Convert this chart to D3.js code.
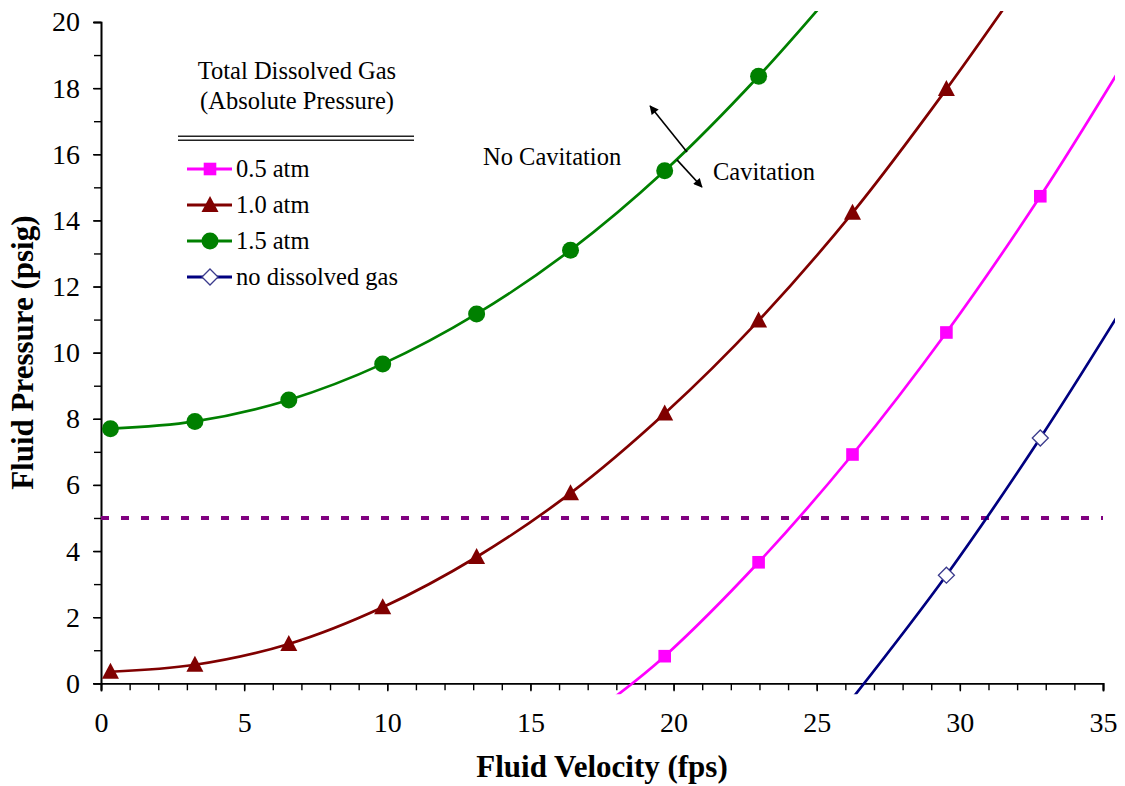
<!DOCTYPE html>
<html>
<head>
<meta charset="utf-8">
<script src="https://cdn.jsdelivr.net/npm/d3@7"></script>
<style>
  html, body { margin: 0; padding: 0; background: #fff; }
  svg { display: block; }
  text { font-family: "Liberation Serif", "Times New Roman", serif; fill: #000; }
</style>
</head>
<body>
<svg id="chart" width="1125" height="786"></svg>
<script>
// ---------------- data ----------------
const velocityFps = [0.33, 3.28, 6.56, 9.84, 13.12, 16.40, 19.69, 22.97, 26.25, 29.53, 32.81];

// markers (measured points)
const gas15X = [0.33, 3.28, 6.56, 9.84, 13.12, 16.40, 19.69, 22.97];
const gas15Y = [7.70, 7.92, 8.57, 9.66, 11.17, 13.10, 15.50, 18.36];

const gas10X = [0.33, 3.28, 6.56, 9.84, 13.12, 16.40, 19.69, 22.97, 26.25, 29.53];
const gas10Y = [0.35, 0.56, 1.19, 2.30, 3.82, 5.75, 8.16, 10.97, 14.23, 17.97];

const gas05X = [19.69, 22.97, 26.25, 29.53, 32.81];
const gas05Y = [0.82, 3.66, 6.92, 10.61, 14.73];

const noGasX = [29.53, 32.81];
const noGasY = [3.27, 7.42];

// visible continuation of the smoothed curves beyond the markers
const gas15TailX = [26.25];            const gas15TailY = [21.6];
const gas10TailX = [32.81];            const gas10TailY = [22.0];
const gas05HeadX = [18.0];             const gas05HeadY = [-0.38];
const gas05TailX = [35.5];             const gas05TailY = [18.45];
const noGasHeadX = [26.25];            const noGasHeadY = [-0.45];
const noGasTailX = [35.5];             const noGasTailY = [11.1];

const thresholdPsig = 5;

const xTickLabels = [0, 5, 10, 15, 20, 25, 30, 35];
const yTickLabels = [0, 2, 4, 6, 8, 10, 12, 14, 16, 18, 20];

const legendTitle = ["Total Dissolved Gas", "(Absolute Pressure)"];
const seriesNames = ["0.5 atm", "1.0 atm", "1.5 atm", "no dissolved gas"];

// annotation arrows (data coordinates)
const arrowUp   = [[20.47, 16.07], [19.18, 17.46]];
const arrowDown = [[20.12, 15.83], [20.99, 15.01]];

// ---------------- layout ----------------
const svg = d3.select("#chart");
const L = 101, R = 1103, T = 22, B = 683.3;

const x = d3.scaleLinear().domain([0, 35]).range([L, R]);
const y = d3.scaleLinear().domain([0, 20]).range([B, T]);

const zip = (xs, ys) => xs.map((v, i) => [v, ys[i]]);

const series = [
  { name: seriesNames[0], color: "#FF00FF", shape: "square",
    pts: zip(gas05X, gas05Y), line: [...zip(gas05HeadX, gas05HeadY), ...zip(gas05X, gas05Y), ...zip(gas05TailX, gas05TailY)] },
  { name: seriesNames[1], color: "#800000", shape: "triangle",
    pts: zip(gas10X, gas10Y), line: [...zip(gas10X, gas10Y), ...zip(gas10TailX, gas10TailY)] },
  { name: seriesNames[2], color: "#008000", shape: "circle",
    pts: zip(gas15X, gas15Y), line: [...zip(gas15X, gas15Y), ...zip(gas15TailX, gas15TailY)] },
  { name: seriesNames[3], color: "#000080", shape: "diamond",
    pts: zip(noGasX, noGasY), line: [...zip(noGasHeadX, noGasHeadY), ...zip(noGasX, noGasY), ...zip(noGasTailX, noGasTailY)] }
];

// defs
const defs = svg.append("defs");
defs.append("clipPath").attr("id", "plotClip")
  .append("rect").attr("x", L - 2).attr("y", T - 11).attr("width", R - L + 14).attr("height", B - T + 22);
defs.append("marker").attr("id", "arrowHead")
  .attr("viewBox", "0 0 10 10").attr("refX", 9).attr("refY", 5)
  .attr("markerWidth", 11).attr("markerHeight", 9).attr("markerUnits", "userSpaceOnUse")
  .attr("orient", "auto")
  .append("path").attr("d", "M0,0 L10,5 L0,10 Z").attr("fill", "#000");

// axes
const xAxisMinor = d3.axisBottom(x).tickValues(d3.range(0, 36, 1)).tickSize(7).tickFormat("");
const xAxisMajor = d3.axisBottom(x).tickValues(xTickLabels).tickSize(8).tickPadding(21).tickFormat(d3.format("d"));
const yAxisMinor = d3.axisLeft(y).tickValues(d3.range(0, 21, 1)).tickSize(7).tickFormat("");
const yAxisMajor = d3.axisLeft(y).tickValues(yTickLabels).tickSize(8).tickPadding(13).tickFormat(d3.format("d"));

function styleAxis(g) {
  g.selectAll("path.domain").attr("stroke", "#000").attr("stroke-width", 1.6);
  g.selectAll(".tick line").attr("stroke", "#000").attr("stroke-width", 1.4);
  g.selectAll(".tick text").attr("font-family", "Liberation Serif, serif").attr("font-size", 28).attr("fill", "#000");
}
svg.append("g").attr("transform", `translate(0,${B})`).call(xAxisMinor).call(styleAxis);
svg.append("g").attr("transform", `translate(0,${B})`).call(xAxisMajor).call(styleAxis);
svg.append("g").attr("transform", `translate(${L},0)`).call(yAxisMinor).call(styleAxis);
svg.append("g").attr("transform", `translate(${L},0)`).call(yAxisMajor).call(styleAxis);

// axis titles
svg.append("text").attr("x", (L + R) / 2).attr("y", 777).attr("text-anchor", "middle")
  .attr("font-size", 31).attr("font-weight", "bold").text("Fluid Velocity (fps)");
svg.append("text").attr("transform", `translate(33,${(T + B) / 2}) rotate(-90)`).attr("text-anchor", "middle")
  .attr("font-size", 31).attr("font-weight", "bold").text("Fluid Pressure (psig)");

// threshold dashed line
svg.append("line")
  .attr("x1", x(0)).attr("x2", x(35)).attr("y1", y(thresholdPsig)).attr("y2", y(thresholdPsig))
  .attr("stroke", "#800080").attr("stroke-width", 4).attr("stroke-dasharray", "8,12");

// lines
const lineGen = d3.line().x(d => x(d[0])).y(d => y(d[1])).curve(d3.curveCatmullRom.alpha(0.5));
const plot = svg.append("g").attr("clip-path", "url(#plotClip)");
series.forEach(s => {
  plot.append("path").attr("d", lineGen(s.line))
    .attr("fill", "none").attr("stroke", s.color).attr("stroke-width", 2.7);
});

// markers
function drawMarker(g, shape, color, cx, cy) {
  if (shape === "square") {
    g.append("rect").attr("x", cx - 6.3).attr("y", cy - 6.3).attr("width", 12.6).attr("height", 12.6).attr("fill", color);
  } else if (shape === "triangle") {
    g.append("path").attr("d", `M${cx},${cy - 9} L${cx + 8.5},${cy + 7} L${cx - 8.5},${cy + 7} Z`).attr("fill", color);
  } else if (shape === "circle") {
    g.append("circle").attr("cx", cx).attr("cy", cy).attr("r", 8.5).attr("fill", color);
  } else if (shape === "diamond") {
    g.append("path").attr("d", `M${cx},${cy - 8} L${cx + 8},${cy} L${cx},${cy + 8} L${cx - 8},${cy} Z`)
      .attr("fill", "#fff").attr("stroke", "#3a3a8c").attr("stroke-width", 1.3);
  }
}
const markersG = svg.append("g");
series.forEach(s => s.pts.forEach(p => drawMarker(markersG, s.shape, s.color, x(p[0]), y(p[1]))));

// legend
const lg = svg.append("g");
legendTitle.forEach((t, i) => {
  lg.append("text").attr("x", 297).attr("y", 79 + i * 30).attr("text-anchor", "middle")
    .attr("font-size", 24.5).text(t);
});
[136.3, 140.3].forEach(yy => {
  lg.append("line").attr("x1", 178).attr("x2", 414).attr("y1", yy).attr("y2", yy)
    .attr("stroke", "#222").attr("stroke-width", 1.6);
});
series.forEach((s, i) => {
  const base = 177 + i * 36;
  const cy = base - 8;
  lg.append("line").attr("x1", 187).attr("x2", 232).attr("y1", cy).attr("y2", cy)
    .attr("stroke", s.color).attr("stroke-width", 3);
  drawMarker(lg, s.shape, s.color, 210, cy);
  lg.append("text").attr("x", 236).attr("y", base).attr("font-size", 24.5).text(s.name);
});

// annotations
svg.append("text").attr("x", 483).attr("y", 165).attr("font-size", 24.5).text("No Cavitation");
svg.append("text").attr("x", 713).attr("y", 180).attr("font-size", 24.5).text("Cavitation");
[arrowUp, arrowDown].forEach(a => {
  svg.append("line")
    .attr("x1", x(a[0][0])).attr("y1", y(a[0][1])).attr("x2", x(a[1][0])).attr("y2", y(a[1][1]))
    .attr("stroke", "#000").attr("stroke-width", 1.6).attr("marker-end", "url(#arrowHead)");
});
</script>
</body>
</html>
